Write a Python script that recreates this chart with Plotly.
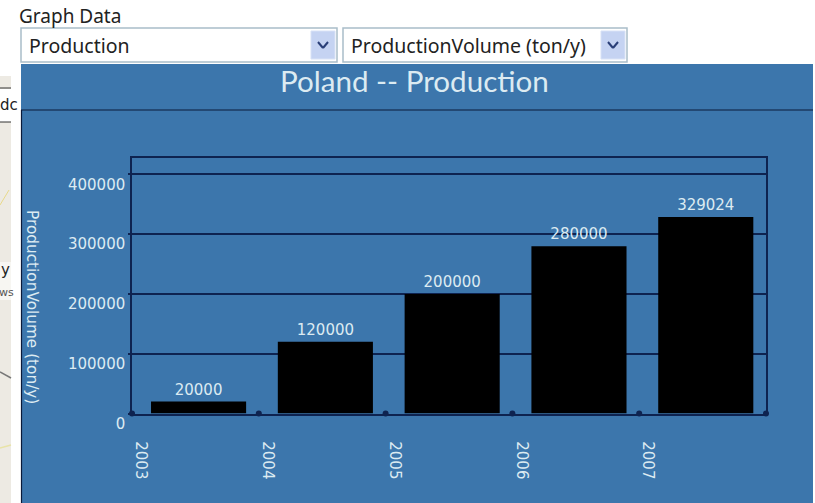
import plotly.graph_objects as go

years = [2003, 2004, 2005, 2006, 2007]
volumes = [20000, 120000, 200000, 280000, 329024]
y_ticks = [0, 100000, 200000, 300000, 400000]
title_text = "Poland -- Production"
y_title = "ProductionVolume (ton/y)"
select_label = "Graph Data"
select_1 = "Production"
select_2 = "ProductionVolume (ton/y)"

W, H = 815, 503
PANEL = "#3C76AC"
DARK = "#0E2350"
LIGHT = "#DCEBF2"
FONT = "DejaVu Sans"
UI_FONT = "Noto Sans"


def px(x):
    return x / W


def py(y):
    return 1 - y / H


def rect(x0, y0, x1, y1, fill, line=None, width=1):
    return dict(type="rect", xref="paper", yref="paper", x0=px(x0), x1=px(x1),
                y0=py(y0), y1=py(y1), fillcolor=fill, layer="below",
                line=dict(color=line, width=width) if line else dict(width=0))


def seg(x0, y0, x1, y1, color, width=1.5):
    return dict(type="line", xref="paper", yref="paper", x0=px(x0), x1=px(x1),
                y0=py(y0), y1=py(y1), layer="below", line=dict(color=color, width=width))


def note(x, y, text, size, color="#222222", anchor="left", angle=0, family=FONT):
    return dict(xref="paper", yref="paper", x=px(x), y=py(y), text=text, showarrow=False,
                xanchor=anchor, yanchor="middle", textangle=angle,
                font=dict(size=size, color=color, family=family))


shapes = [
    rect(0, 76, 11, 503, "#EDEAE3"),
    seg(0, 88, 11, 88, "#333333", 1),
    rect(0, 89, 11, 122, "#FFFFFF"),
    seg(0, 122, 11, 122, "#333333", 1),
    rect(0, 262, 11, 300, "#F7F6F2"),
    seg(0, 372, 11, 378, "#777777", 1.5),
    seg(0, 205, 9, 190, "#E8D98A", 1),
    seg(0, 448, 11, 445, "#E8E3A8", 1.5),
    rect(21, 64, 813, 503, PANEL),
    seg(21, 110, 813, 110, "#0A1A3A", 1.2),
    seg(21.5, 110, 21.5, 503, "#0A1A3A", 1.2),
    rect(21, 28, 337, 62, "#FFFFFF", "#A9BDC9", 1.5),
    rect(311, 31, 335, 59, "#C5D3F2", "#D8E2F6", 1),
    seg(318, 42, 323, 48, "#2A3F78", 2),
    seg(323, 48, 328, 42, "#2A3F78", 2),
    rect(343, 28, 627, 62, "#FFFFFF", "#A9BDC9", 1.5),
    rect(601, 31, 625, 59, "#C5D3F2", "#D8E2F6", 1),
    seg(608, 42, 613, 48, "#2A3F78", 2),
    seg(613, 48, 618, 42, "#2A3F78", 2),
]

annotations = [
    note(17, 16, select_label, 19, family=UI_FONT),
    note(27, 45, select_1, 19.5, family=UI_FONT),
    note(349, 45, select_2, 19.5, family=UI_FONT),
    note(415, 81, title_text, 29.6, color=LIGHT, anchor="center", family="Lato"),
    note(32, 307, y_title, 15.3, color=LIGHT, anchor="center", angle=90),
    note(-2, 105, "dc", 15),
    note(-1, 270, "y", 15),
    note(-3, 292, "ws", 11, color="#555555"),
]

fig = go.Figure()
fig.add_bar(
    x=years, y=volumes, width=0.75, offset=0.15,
    marker=dict(color="#000000", line=dict(width=0)),
    text=[str(v) for v in volumes], textposition="outside", cliponaxis=False,
    textangle=0, textfont=dict(size=15, color=LIGHT, family=FONT),
)
fig.add_scatter(
    x=years + [years[-1] + 1], y=[0] * (len(years) + 1), mode="markers",
    marker=dict(color=DARK, size=6), cliponaxis=False, hoverinfo="skip",
)

fig.update_layout(
    width=W, height=H, autosize=False, showlegend=False,
    margin=dict(l=0, r=0, t=0, b=0, autoexpand=False),
    paper_bgcolor="#FFFFFF", plot_bgcolor="rgba(0,0,0,0)",
    shapes=shapes, annotations=annotations,
    xaxis=dict(
        domain=[px(132), px(766)], range=[2003, 2008], type="linear",
        tickvals=years, ticktext=[str(y) for y in years], tickangle=90,
        ticklabelshift=9, ticklabelstandoff=23, ticks="",
        showgrid=False, zeroline=False, showline=True, linecolor=DARK, linewidth=1.5, mirror=True,
        tickfont=dict(size=15, color=LIGHT, family=FONT),
    ),
    yaxis=dict(
        domain=[py(413.5), py(158)], range=[0, 427600],
        tickvals=y_ticks, ticktext=[str(v) for v in y_ticks],
        ticklabelshift=10, ticks="outside", ticklen=2, tickcolor=DARK, tickwidth=2,
        ticklabelstandoff=0,
        showgrid=True, gridcolor=DARK, gridwidth=2, zeroline=False,
        showline=True, linecolor=DARK, linewidth=1.5, mirror=True,
        tickfont=dict(size=15, color=LIGHT, family=FONT),
    ),
)

fig.write_html(
    "out.html",
    config=dict(displayModeBar=False),
    post_script=(
        "var gd=document.getElementById('{plot_id}');"
        "gd.style.position='fixed';gd.style.left='0px';gd.style.top='0px';"
    ),
)
